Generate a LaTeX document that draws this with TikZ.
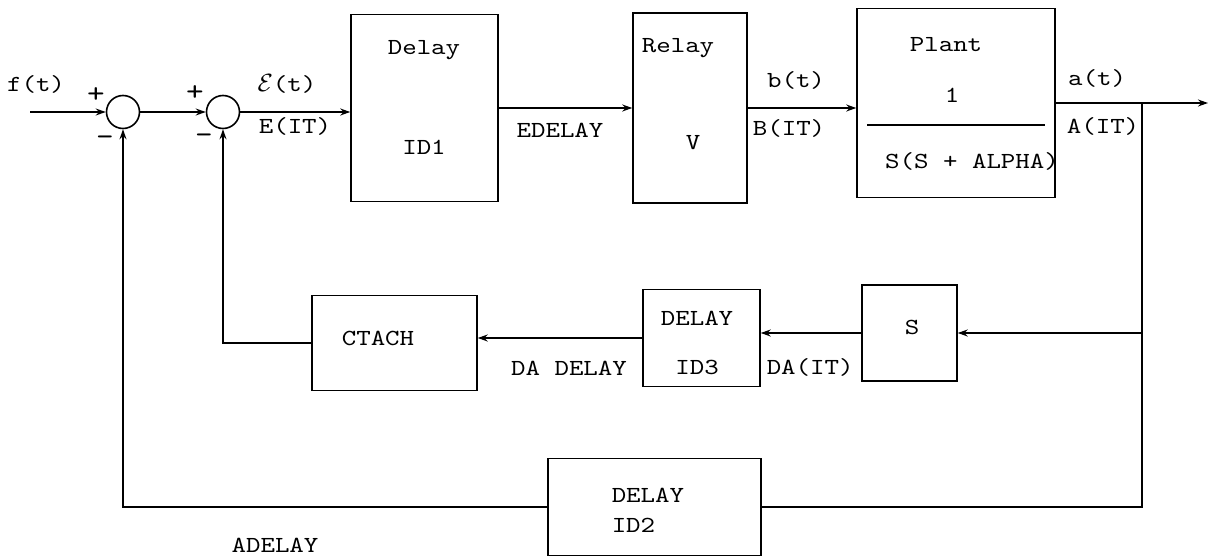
\documentclass[tikz,border=0pt]{standalone}
\usepackage{fontspec}
\newfontfamily\tw[FakeStretch=1.2]{lmmono10-regular.otf}
\usetikzlibrary{arrows.meta,calc}
\begin{document}
\begin{tikzpicture}[x=1pt,y=-1pt,
  line width=1.5pt,
  blk/.style={draw,line width=1.5pt,inner sep=0pt},
  sum/.style={draw,circle,line width=1.6pt,minimum size=33pt,inner sep=0pt},
  lbl/.style={font=\tw\fontsize{23}{26}\selectfont,inner sep=0pt},
  sgn/.style={font=\tw\fontsize{28}{30}\selectfont,inner sep=0pt},
  arr/.style={-{Stealth[length=10pt,width=7pt]}}]
\useasboundingbox[fill=white] (0,0) rectangle (1210,559);

% summing junctions
\node[sum] (s1) at (123,112) {};
\node[sum] (s2) at (223,112) {};

% blocks
\node[blk,minimum width=147pt,minimum height=187pt] (d1) at (424.5,108) {};
\node[blk,minimum width=114pt,minimum height=190pt] (rl) at (690,108) {};
\node[blk,minimum width=198pt,minimum height=189pt] (pl) at (956,103) {};
\node[blk,minimum width=95pt,minimum height=96pt] (sb) at (909.5,333) {};
\node[blk,minimum width=117pt,minimum height=97pt] (id3) at (701.5,338) {};
\node[blk,minimum width=165pt,minimum height=95pt] (ct) at (394.5,343) {};
\node[blk,minimum width=213pt,minimum height=97pt] (id2) at (654.5,507) {};

% texts in blocks
\node[lbl] (tdelay) at (424,50) {Delay};
\node[lbl] (tid1) at (424,147) {ID1};
\node[lbl] (trelay) at (678,48) {Relay};
\node[lbl] (tv) at (693,143) {V};
\node[lbl] (tplant) at (946,45) {Plant};
\node[lbl] (tone) at (952,95) {1};
\draw[line width=1.5pt] ($(pl.west)+(11,22)$) coordinate (fl) -- ($(pl.east)+(-11,22)$) coordinate (fr);
\node[lbl] (tden) at (972,161) {S(S + ALPHA)};
\node[lbl] (ts) at (912,327) {S};
\node[lbl] (tdl3) at (697,318) {DELAY};
\node[lbl] (tid3) at (697,367) {ID3};
\node[lbl] (tct) at (378,338) {CTACH};
\node[lbl,anchor=west] (tdl2) at (611,495) {DELAY};
\node[lbl,anchor=west] (tid2) at (611,525) {ID2};

% signal labels
\node[lbl] (tf) at (36,84) {f(t)};
\node[sgn] (p1) at (96,95) {+};
\node[sgn] (p2) at (195,93) {+};
\node[sgn] (m1) at (105,141) {-};
\node[sgn] (m2) at (204,139) {-};
\node[lbl] (teps) at (287,84) {$\mathcal{E}$(t)};
\node[lbl] (teit) at (295,126) {E(IT)};
\node[lbl] (tedel) at (560,130) {EDELAY};
\node[lbl] (tb) at (796,80) {b(t)};
\node[lbl] (tbit) at (789,128) {B(IT)};
\node[lbl] (ta) at (1097,78) {a(t)};
\node[lbl] (tait) at (1103,126) {A(IT)};
\node[lbl,anchor=west] (tdait) at (766,367) {DA(IT)};
\node[lbl] (tdadel) at (569,368) {DA DELAY};
\node[lbl] (tadel) at (275,545) {ADELAY};

% connectors
\coordinate (in) at (30,112);
\coordinate (out) at (1208,103);
\coordinate (rc) at (1142,103);
\draw[arr] (in) -- (s1.west);
\draw[arr] (s1.east) -- (s2.west);
\draw[arr] (s2.east) -- (s2.east -| d1.west);
\draw[arr] (d1.east) -- (d1.east -| rl.west);
\draw[arr] (rl.east) -- (rl.east -| pl.west);
\draw[arr] (pl.east) -- (out);
\draw (rc) -- (rc |- id2.east) -- (id2.east);
\draw[arr] (rc |- sb.east) -- (sb.east);
\draw[arr] (sb.west) -- (sb.west -| id3.east);
\draw[arr] (id3.west) -- (id3.west -| ct.east);
\draw[arr] (ct.west) -- (ct.west -| s2.south) -- (s2.south);
\draw[arr] (id2.west) -- (id2.west -| s1.south) -- (s1.south);
\end{tikzpicture}
\end{document}
